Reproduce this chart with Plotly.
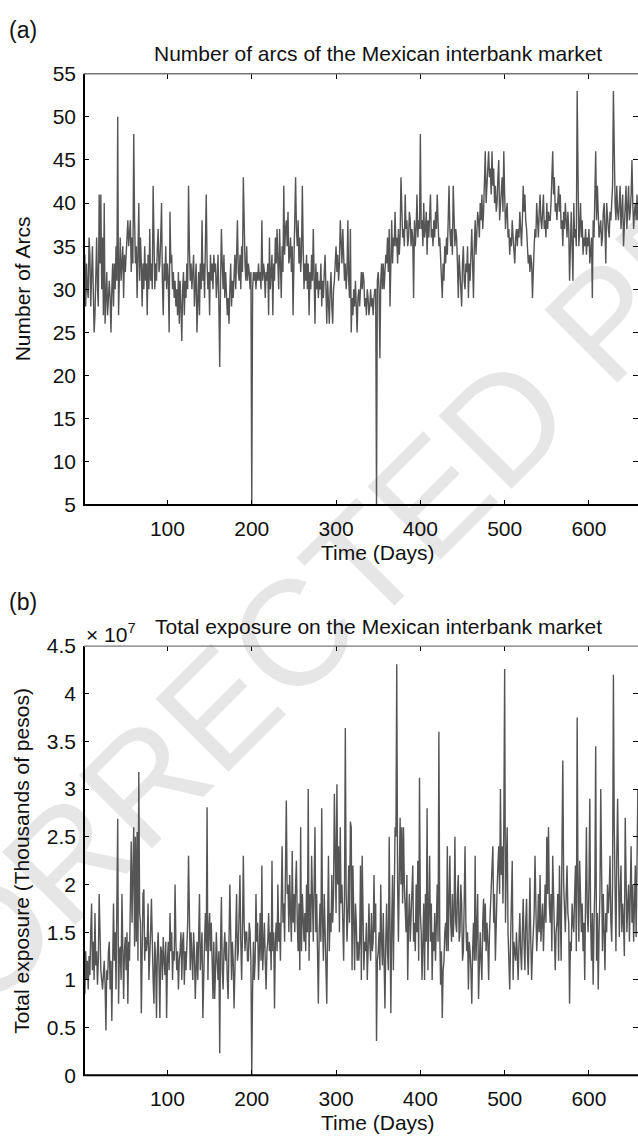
import plotly.graph_objects as go

# ---------------- data ----------------
arcs = [
    32, 34, 28, 33, 30, 29, 36, 34, 28, 31,
    35, 30, 25, 27, 33, 36, 30, 28, 41, 33,
    41, 30, 36, 27, 40, 26, 29, 32, 27, 30,
    31, 29, 25, 30, 33, 28, 33, 30, 35, 31,
    50, 27, 32, 36, 31, 33, 35, 29, 34, 32,
    34, 37, 38, 35, 37, 38, 32, 36, 33, 48,
    38, 33, 35, 29, 34, 40, 31, 36, 33, 28,
    33, 30, 35, 31, 33, 27, 34, 30, 37, 31,
    33, 30, 42, 34, 30, 33, 31, 35, 37, 32,
    33, 36, 40, 31, 27, 33, 31, 35, 30, 33,
    31, 25, 39, 33, 34, 30, 32, 29, 31, 28,
    30, 27, 32, 26, 31, 28, 24, 30, 32, 27,
    31, 29, 33, 30, 42, 35, 31, 33, 30, 32,
    34, 28, 31, 33, 25, 31, 32, 27, 33, 30,
    38, 31, 33, 29, 36, 41, 33, 30, 32, 27,
    34, 31, 33, 30, 34, 32, 33, 29, 31, 34,
    28, 21, 31, 37, 33, 30, 34, 29, 32, 30,
    27, 29, 26, 30, 33, 28, 31, 29, 32, 34,
    30, 33, 38, 32, 31, 34, 30, 35, 32, 43,
    36, 33, 31, 35, 31, 33, 32, 30, 32, 5,
    30, 32, 31, 32, 30, 32, 31, 33, 31, 32,
    30, 38, 31, 33, 32, 29, 32, 31, 33, 27,
    36, 30, 32, 34, 27, 33, 31, 36, 33, 37,
    33, 30, 37, 33, 29, 35, 32, 42, 34, 37,
    38, 35, 39, 33, 34, 36, 32, 35, 27, 33,
    42, 43, 37, 35, 38, 33, 36, 32, 34, 42,
    35, 30, 33, 31, 34, 30, 33, 27, 32, 30,
    34, 31, 37, 30, 26, 33, 30, 32, 29, 31,
    30, 33, 28, 31, 29, 32, 34, 30, 26, 31,
    29, 26, 30, 32, 28, 26, 30, 31, 33, 35,
    32, 34, 31, 33, 38, 35, 33, 37, 34, 31,
    33, 30, 32, 38, 31, 29, 37, 25, 29, 27,
    30, 28, 31, 26, 25, 29, 30, 28, 31, 32,
    30, 32, 31, 28, 29, 27, 30, 29, 27, 28,
    30, 28, 29, 27, 29, 30, 30, 5, 31, 32,
    30, 22, 31, 33, 30, 33, 30, 32, 34, 33,
    36, 32, 37, 28, 35, 38, 33, 36, 35, 39,
    35, 36, 33, 37, 34, 36, 43, 38, 36, 37,
    35, 41, 37, 38, 35, 36, 39, 38, 35, 37,
    36, 29, 38, 35, 37, 41, 36, 38, 37, 48,
    37, 38, 35, 40, 36, 37, 39, 34, 38, 36,
    38, 41, 36, 37, 35, 38, 36, 39, 37, 41,
    38, 35, 36, 33, 31, 29, 33, 31, 35, 33,
    36, 34, 38, 42, 37, 35, 37, 34, 42, 38,
    35, 37, 36, 33, 29, 34, 32, 31, 28, 33,
    35, 31, 30, 33, 32, 35, 29, 33, 31, 34,
    37, 33, 29, 35, 38, 34, 36, 39, 38, 36,
    40, 38, 41, 37, 39, 42, 46, 40, 42, 44,
    46, 43, 44, 41, 46, 42, 44, 40, 42, 39,
    40, 43, 45, 38, 40, 41, 43, 39, 46, 41,
    37, 39, 40, 36, 37, 34, 36, 35, 38, 36,
    34, 33, 36, 37, 35, 37, 36, 39, 37, 35,
    38, 42, 39, 41, 38, 37, 35, 33, 34, 32,
    34, 33, 29, 33, 35, 37, 36, 40, 37, 36,
    39, 41, 38, 37, 39, 41, 37, 38, 36, 40,
    37, 39, 38, 38, 40, 43, 46, 41, 43, 39,
    40, 38, 41, 42, 39, 41, 37, 38, 35, 39,
    37, 40, 38, 36, 39, 37, 31, 36, 39, 35,
    31, 40, 36, 37, 35, 53, 38, 35, 37, 40,
    36, 38, 34, 36, 35, 37, 34, 36, 35, 37,
    33, 35, 36, 29, 38, 36, 41, 46, 38, 42,
    39, 36, 37, 38, 35, 36, 39, 40, 37, 33,
    40, 38, 37, 36, 39, 38, 41, 42, 53, 43,
    40, 38, 42, 39, 38, 40, 42, 37, 39, 41,
    35, 38, 40, 42, 37, 39, 42, 38, 39, 41,
    45, 40, 37, 39, 40, 38, 41, 38,
]

# total exposure, in units of 10^7 thousands of pesos
exposure_e7 = [
    1.1, 0.85, 1.3, 1.0, 1.2, 0.9, 1.25, 1.05, 1.5, 1.8,
    1.1, 1.4, 1.0, 1.7, 1.15, 1.3, 0.95, 1.2, 1.9, 1.4,
    1.1, 1.0, 0.9, 1.05, 1.2, 0.95, 0.47, 1.1, 1.0, 1.3,
    1.4, 0.9, 1.2, 0.57, 1.0, 1.8, 1.2, 1.5, 0.9, 1.6,
    2.69, 0.75, 1.3, 1.35, 1.0, 1.9, 1.2, 0.8, 1.3, 1.45,
    1.1, 1.5, 0.75, 1.4, 1.2, 2.3, 2.45, 1.6, 2.2, 2.6,
    1.35, 2.5, 1.4, 2.55, 1.2, 3.18, 1.7, 1.6, 0.65, 1.3,
    1.9, 1.95, 1.2, 1.45, 1.3, 1.4, 1.8, 1.0, 1.2, 1.5,
    1.85, 1.1, 1.0, 0.75, 1.4, 1.2, 0.6, 1.3, 1.5, 1.1,
    0.6, 1.35, 1.3, 1.0, 1.45, 1.2, 1.05, 1.4, 0.6, 1.2,
    1.4, 1.1, 1.7, 1.3, 1.5, 1.0, 1.3, 1.2, 2.0, 1.4,
    1.1, 1.3, 0.9, 1.2, 1.3, 1.5, 1.0, 1.4, 1.5, 0.95,
    1.3, 1.1, 1.4, 1.6, 2.3, 1.3, 1.1, 1.5, 1.2, 1.0,
    1.5, 1.3, 0.8, 1.3, 1.4, 1.0, 1.4, 1.9, 1.1, 1.3,
    1.5, 0.6, 1.2, 1.4, 1.7, 1.3, 2.81, 1.0, 1.5, 1.7,
    1.3, 1.6, 1.2, 0.8, 1.4, 0.8, 1.1, 1.5, 1.2, 1.0,
    1.3, 0.23, 1.4, 1.87, 1.1, 0.9, 1.3, 1.5, 1.2, 1.4,
    1.0, 0.8, 1.4, 2.0, 1.5, 1.0, 1.4, 1.2, 0.7, 1.3,
    1.5, 1.9, 1.2, 1.3, 1.6, 2.1, 1.4, 1.0, 1.5, 2.3,
    1.6, 1.3, 1.5, 1.5, 1.2, 1.2, 1.6, 1.5, 1.2, 0.0,
    0.9, 1.4, 1.0, 1.2, 1.9, 1.4, 1.6, 1.0, 1.3, 1.7,
    1.2, 2.2, 1.1, 1.5, 1.6, 1.2, 0.9, 1.3, 1.4, 1.7,
    1.3, 1.5, 1.1, 2.25, 1.3, 1.5, 0.7, 1.4, 1.6, 1.3,
    2.0, 1.4, 1.6, 1.2, 1.8, 2.4, 1.6, 1.8, 1.4, 2.5,
    2.88, 1.9, 2.0, 1.5, 2.1, 1.7, 1.4, 2.35, 1.6, 1.9,
    1.5, 2.0, 2.25, 1.6, 1.3, 1.8, 1.1, 2.6, 1.3, 1.9,
    1.5, 1.4, 1.7, 1.3, 2.0, 1.5, 3.0, 1.2, 1.9, 1.5,
    2.3, 1.7, 1.4, 2.0, 2.6, 1.5, 1.9, 1.3, 0.75, 1.5,
    1.8, 1.4, 2.8, 1.6, 1.2, 1.9, 1.5, 1.3, 0.75, 1.6,
    2.3, 1.3, 1.7, 1.5, 2.1, 1.6, 1.9, 2.95, 2.4, 1.7,
    3.05, 2.0, 2.4, 1.5, 2.6, 1.8, 2.0, 1.4, 1.2, 1.9,
    3.64, 1.9, 1.4, 1.7, 2.2, 1.6, 2.66, 2.6, 1.1, 2.2,
    1.5, 1.1, 1.8, 1.6, 1.2, 1.4, 1.2, 1.4, 2.2, 1.0,
    2.3, 1.5, 1.1, 1.4, 1.3, 1.6, 1.0, 1.3, 1.8, 1.4,
    1.2, 1.7, 1.3, 1.4, 2.1, 1.5, 1.8, 0.36, 1.2, 1.3,
    1.5, 1.1, 2.0, 1.4, 1.15, 1.7, 1.3, 0.7, 1.4, 1.8,
    1.3, 1.1, 2.5, 1.5, 0.65, 1.6, 2.1, 1.1, 1.8, 2.6,
    2.5, 4.31, 2.0, 1.4, 2.1, 2.7, 2.0, 2.6, 1.8, 2.6,
    2.0, 1.7, 1.5, 2.1, 1.0, 1.6, 1.9, 1.4, 1.65, 1.8,
    2.2, 1.4, 1.6, 1.3, 2.0, 1.5, 2.25, 1.2, 3.12, 1.7,
    1.5, 1.0, 1.6, 1.8, 1.0, 1.9, 1.4, 2.8, 1.1, 1.6,
    2.3, 1.4, 1.8, 1.0, 1.5, 1.3, 1.7, 1.2, 1.5, 2.0,
    1.4, 3.6, 1.5, 0.95, 1.3, 0.6, 1.1, 1.2, 1.5, 1.6,
    1.3, 2.4, 1.3, 1.7, 2.3, 1.6, 1.4, 1.9, 1.45, 1.7,
    2.5, 1.6, 1.5, 1.9, 2.1, 1.4, 1.5, 2.0, 1.8, 1.2,
    1.3, 1.8, 2.4, 1.6, 1.3, 1.5, 0.9, 1.4, 1.3, 1.1,
    0.75, 1.3, 1.6, 1.2, 2.3, 1.2, 1.6, 1.9, 0.8, 1.3,
    1.5, 1.2, 1.0, 1.6, 1.85, 1.4, 1.8, 1.3, 1.6, 1.4,
    1.0, 1.5, 1.7, 1.9, 2.2, 2.4, 1.6, 1.9, 1.2, 1.7,
    1.95, 2.2, 2.4, 1.9, 3.0, 2.1, 2.4, 1.8, 2.6, 4.26,
    1.6, 2.2, 2.6, 1.5, 1.1, 0.9, 1.4, 1.7, 2.25, 1.0,
    1.4, 1.3, 1.2, 1.5, 1.3, 1.0, 1.4, 1.7, 1.3, 1.1,
    1.5, 1.85, 1.4, 1.1, 1.6, 1.85, 1.3, 1.05, 1.5, 2.07,
    1.4, 1.0, 1.3, 1.5, 1.7, 2.3, 1.6, 1.3, 1.5, 1.9,
    1.5, 2.1, 1.4, 1.6, 1.8, 1.3, 1.7, 2.0, 1.6, 2.5,
    1.9, 2.6, 1.8, 1.6, 1.9, 1.3, 2.3, 1.8, 1.6, 1.1,
    1.5, 1.6, 1.9, 1.2, 2.2, 1.5, 1.2, 2.4, 3.3, 2.0,
    1.7, 1.5, 1.9, 2.2, 1.7, 1.6, 0.75, 1.4, 1.3, 1.8,
    1.6, 1.5, 1.9, 2.2, 1.3, 3.75, 2.0, 1.4, 2.25, 1.7,
    1.5, 1.8, 1.3, 1.6, 1.0, 1.9, 2.6, 1.7, 1.5, 2.0,
    2.9, 1.6, 1.2, 1.7, 0.95, 1.6, 2.0, 3.45, 1.2, 1.7,
    0.9, 1.5, 1.9, 3.0, 1.8, 1.3, 1.9, 1.6, 1.1, 1.7,
    1.5, 2.0, 1.7, 1.9, 2.3, 1.6, 1.4, 2.0, 4.2, 2.6,
    1.8, 1.3, 2.3, 2.9, 2.2, 1.45, 1.9, 2.2, 1.5, 1.8,
    1.6, 1.25, 2.7, 1.9, 1.5, 1.8, 2.0, 1.4, 1.9, 2.4,
    1.6, 2.0, 1.4, 1.8, 2.2, 1.45, 2.6, 3.0,
]

days_arcs = list(range(1, len(arcs) + 1))
days_exp = list(range(1, len(exposure_e7) + 1))

x_tickvals = [100, 200, 300, 400, 500, 600]
arcs_tickvals = [5, 10, 15, 20, 25, 30, 35, 40, 45, 50, 55]
exp_tickvals = [0, 0.5, 1, 1.5, 2, 2.5, 3, 3.5, 4, 4.5]
exp_ticktext = ["0", "0.5", "1", "1.5", "2", "2.5", "3", "3.5", "4", "4.5"]

# ---------------- layout helpers ----------------
W, H = 638, 1148
def px(x):
    return x / W
def py(y):
    return 1 - y / H

FONT = "Liberation Sans, Arial, Helvetica, sans-serif"
TXT = "#111111"
LINE = "#555555"
FS = 21

AX_L = 84
TOP1, BOT1 = 63, 503
TOP2, BOT2 = 647, 1085
X_MAX = 1 + (W - AX_L) / 0.843

fig = go.Figure()
fig.add_trace(go.Scatter(x=days_arcs, y=arcs, mode="lines",
                         line=dict(color=LINE, width=1.4),
                         xaxis="x", yaxis="y", showlegend=False))
fig.add_trace(go.Scatter(x=days_exp, y=exposure_e7, mode="lines",
                         line=dict(color=LINE, width=1.4),
                         xaxis="x2", yaxis="y2", showlegend=False))

common_x = dict(range=[1, X_MAX], tickvals=x_tickvals, ticks="inside", ticklen=5,
                tickwidth=1, tickcolor="black", showline=False, mirror="ticks",
                showgrid=False, zeroline=False, ticklabelstandoff=9,
                tickfont=dict(family=FONT, size=FS, color=TXT))
common_y = dict(ticks="inside", ticklen=5, tickwidth=1, tickcolor="black",
                showline=False, mirror="ticks", showgrid=False, zeroline=False,
                ticklabelstandoff=7,
                tickfont=dict(family=FONT, size=FS, color=TXT))

fig.update_layout(
    width=W, height=H,
    margin=dict(l=0, r=0, t=0, b=0),
    paper_bgcolor="white", plot_bgcolor="rgba(0,0,0,0)",
    showlegend=False,
    xaxis=dict(domain=[px(AX_L), 1], anchor="y", **common_x),
    yaxis=dict(domain=[py(BOT1), py(TOP1)], anchor="x", range=[5, 55],
               tickvals=arcs_tickvals, **common_y),
    xaxis2=dict(domain=[px(AX_L), 1], anchor="y2", **common_x),
    yaxis2=dict(domain=[py(BOT2), py(TOP2)], anchor="x2", range=[0, 4.5],
                tickvals=exp_tickvals, ticktext=exp_ticktext, **common_y),
)

# axis box lines (left, bottom: heavy; top: light); right edge lies outside the picture
for top, bot in [(TOP1, BOT1), (TOP2, BOT2)]:
    fig.add_shape(type="line", xref="paper", yref="paper",
                  x0=px(AX_L), x1=px(AX_L), y0=py(bot), y1=py(top),
                  line=dict(color="black", width=2))
    fig.add_shape(type="line", xref="paper", yref="paper",
                  x0=px(AX_L - 1), x1=1, y0=py(bot), y1=py(bot),
                  line=dict(color="black", width=2))
    fig.add_shape(type="line", xref="paper", yref="paper",
                  x0=px(AX_L), x1=1, y0=py(top), y1=py(top),
                  line=dict(color="#777777", width=1.3))

# watermark behind the data
cx, cy = 400, 505
fig.add_shape(type="line", xref="paper", yref="paper", layer="below",
              x0=px(cx - 150), y0=py(cy + 150), x1=px(cx + 150), y1=py(cy - 150),
              line=dict(color="rgba(255,255,255,0)", width=1),
              label=dict(text="CORRECTED PROOF", textangle=-45,
                         textposition="middle", xanchor="center", yanchor="middle",
                         font=dict(family=FONT, size=150, color="#e6e6e6")))

def ann(text, x, y, size=FS, angle=0, xanchor="center"):
    fig.add_annotation(text=text, xref="paper", yref="paper", x=px(x), y=py(y),
                       xanchor=xanchor, yanchor="middle", showarrow=False,
                       textangle=angle, font=dict(family=FONT, size=size, color=TXT))

ann("(a)", 7, 18, size=23, xanchor="left")
ann("Number of arcs of the Mexican interbank market", 378, 42)
ann("Number of Arcs", 22, (TOP1 + BOT1) / 2, angle=-90)
ann("Time (Days)", 378, 552)
ann("(b)", 7, 602, size=23, xanchor="left")
ann("Total exposure on the Mexican interbank market", 378, 627)
ann("\u00d7 10<sup>7</sup>", 84, 634, xanchor="left")
ann("Total exposure (Thousands of pesos)", 22, (TOP2 + BOT2) / 2, angle=-90)
ann("Time (Days)", 378, 1133)

fig.write_html("out.html", config={"displayModeBar": False},
               post_script="document.body.style.margin='0';")
